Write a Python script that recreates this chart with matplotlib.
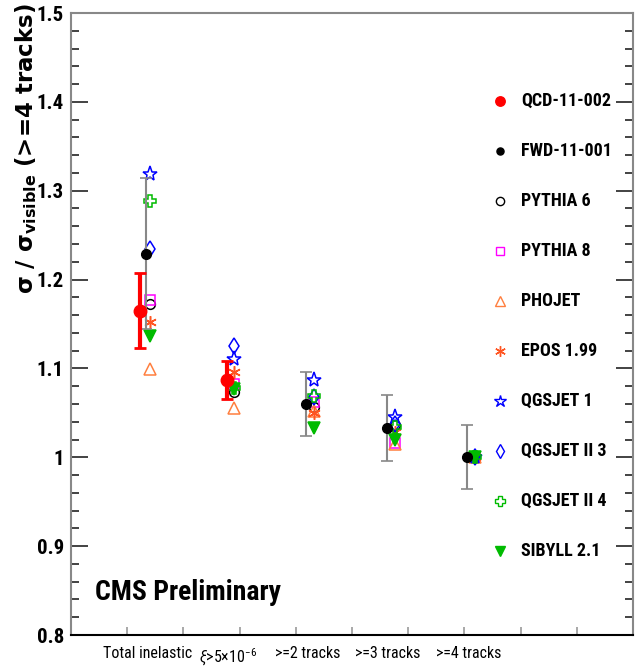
import numpy as np
import matplotlib
matplotlib.use('Agg')
from matplotlib import pyplot as plt
from matplotlib.ticker import MultipleLocator

plt.rcParams['font.family'] = ['Roboto Condensed', 'DejaVu Sans']
plt.rcParams['mathtext.fontset'] = 'custom'
plt.rcParams['mathtext.rm'] = 'Roboto Condensed'
plt.rcParams['mathtext.it'] = 'Roboto Condensed:italic'
plt.rcParams['mathtext.bf'] = 'DejaVu Sans:bold'

# Categorias del eje x
categorias = ['Total inelastic', r'$\xi$>5$\times$10$^{-6}$', '>=2 tracks', '>=3 tracks', '>=4 tracks']

# Datos medidos
qcd_valor = [1.165, 1.087]
qcd_error = [0.042, 0.021]
fwd_valor = [1.229, np.nan, 1.060, 1.033, 1.000]
fwd_error = [0.085, np.nan, 0.036, 0.037, 0.036]

# Predicciones de los generadores
pythia6 = [1.172, 1.073, 1.057, 1.036, 1.000]
pythia8 = [1.177, 1.082, 1.062, 1.016, 1.000]
phojet = [1.099, 1.056, 1.052, 1.015, 1.000]
epos = [1.152, 1.096, 1.050, 1.029, 1.000]
qgsjet1 = [1.319, 1.111, 1.087, 1.045, 1.000]
qgsjet2_3 = [1.234, 1.125, 1.068, 1.038, 1.000]
qgsjet2_4 = [1.288, 1.078, 1.069, 1.034, 1.000]
sibyll = [1.136, 1.077, 1.033, 1.020, 1.000]

x = np.arange(1, len(categorias) + 1)

fig = plt.figure(figsize=(6.37, 6.68), dpi=100)
ax = fig.add_axes([71 / 637, 33 / 668, (633 - 71) / 637, (635 - 13) / 668])

# Estilos de los modelos
estilos = [
    ('PYTHIA 6', pythia6, dict(marker='o', mfc='none', mec='black', ms=7)),
    ('PYTHIA 8', pythia8, dict(marker='s', mfc='none', mec='#ff00ff', ms=7)),
    ('PHOJET', phojet, dict(marker='^', mfc='none', mec='#ff7f3f', ms=8)),
    ('EPOS 1.99', epos, dict(marker=(6, 2, 0), mfc='none', mec='#ff5522', ms=9)),
    ('QGSJET 1', qgsjet1, dict(marker='*', mfc='none', mec='#0000ff', ms=11)),
    ('QGSJET II 3', qgsjet2_3, dict(marker='d', mfc='none', mec='#0000ff', ms=8)),
    ('QGSJET II 4', qgsjet2_4, dict(marker='P', mfc='none', mec='#00bb00', ms=9)),
    ('SIBYLL 2.1', sibyll, dict(marker='v', mfc='#00bb00', mec='#00bb00', ms=8)),
]
x_mod = x + 0.03
x_mod[0] = 0.99
for nombre, valores, st in estilos:
    ax.plot(x_mod, valores, linestyle='none', mew=1.1, **st)

# Medidas
x_fwd = x - 0.07
ax.errorbar(x_fwd, fwd_valor, yerr=fwd_error, fmt='o', color='black', ms=7,
            ecolor='#888888', elinewidth=1.5, capsize=4, capthick=1.2, zorder=5)
x_qcd = np.array([0.855, 1.94])
ax.errorbar(x_qcd, qcd_valor, yerr=qcd_error, fmt='o', color='red', ms=9,
            ecolor='red', elinewidth=3, capsize=4, capthick=2, zorder=6)

ax.set_xlim(0, 7)
ax.set_ylim(0.8, 1.5)
ax.yaxis.set_minor_locator(MultipleLocator(0.02))
ax.xaxis.set_major_locator(MultipleLocator(0.7))
ax.tick_params(axis='y', which='major', direction='in', length=12, width=1.2,
               right=True, labelsize=15, color='#222222', pad=5)
ax.tick_params(axis='y', which='minor', direction='in', length=6, width=1.2,
               right=True, color='#222222')
ax.tick_params(axis='x', which='major', direction='in', length=6, width=1.2,
               labelbottom=False, color='#999999')
ax.set_yticks([0.8, 0.9, 1.0, 1.1, 1.2, 1.3, 1.4, 1.5])
ax.set_yticklabels(['0.8', '0.9', '1', '1.1', '1.2', '1.3', '1.4', '1.5'], fontweight='bold')
for s in ['top', 'right', 'left']:
    ax.spines[s].set_color('#888888')
    ax.spines[s].set_linewidth(1.5)
ax.spines['bottom'].set_color('black')
ax.spines['bottom'].set_linewidth(1.5)

# Etiquetas de categoria
for xi, cat in zip(x - 0.05, categorias):
    ax.text(xi, -0.018, cat, transform=ax.get_xaxis_transform(), ha='center', va='top',
            fontsize=11.5)

# Titulo del eje y
fig.text(26 / 637, 1 - 3 / 668, 'σ / σ$_{\\mathbf{visible}}$ (>=4 tracks)',
         rotation=90, ha='center', va='top', fontsize=16.5, fontweight='bold',
         family=['DejaVu Sans'])

ax.text(24 / 562, 0.069, 'CMS Preliminary', transform=ax.transAxes,
        fontsize=20, fontweight='bold', va='center', ha='left')

# Leyenda manual
leyenda = [
    ('QCD-11-002', dict(marker='o', mfc='red', mec='red', ms=8)),
    ('FWD-11-001', dict(marker='o', mfc='black', mec='black', ms=6)),
] + [(nombre, st) for nombre, valores, st in estilos]

y0 = (635 - 101) / 622
paso = 50 / 622
for i, (nombre, st) in enumerate(leyenda):
    yy = y0 - i * paso
    st = dict(st)
    st['ms'] = st['ms'] * 0.85
    ax.plot([0.7637], [yy], transform=ax.transAxes, linestyle='none', clip_on=False, **st)
    ax.text(0.801, yy, nombre, transform=ax.transAxes, fontsize=13, fontweight='bold',
            va='center', ha='left')

fig.savefig('out.png', dpi=100)
